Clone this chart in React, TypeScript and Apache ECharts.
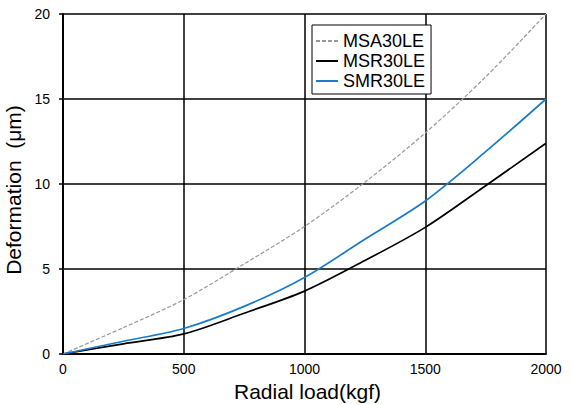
import React, { useEffect, useRef } from "react";
import * as echarts from "echarts";

const loads = [0, 250, 500, 750, 1000, 1250, 1500, 1750, 2000];
const msa = [0, 1.55, 3.2, 5.3, 7.5, 10.1, 13.0, 16.3, 20.0];
const msr = [0, 0.6, 1.18, 2.4, 3.7, 5.5, 7.45, 9.9, 12.4];
const smr = [0, 0.75, 1.5, 2.8, 4.5, 6.75, 9.0, 11.9, 15.0];
const xTicks = [0, 500, 1000, 1500, 2000];
const yTicks = [0, 5, 10, 15, 20];

const pair = (ys: number[]) => loads.map((x, i) => [x, ys[i]]);

export default function App() {
  const ref = useRef<HTMLDivElement>(null);
  useEffect(() => {
    if (!ref.current) return;
    const chart = echarts.init(ref.current, null, { renderer: "svg" });
    const font = "Liberation Sans, Arial, sans-serif";
    chart.setOption({
      animation: false,
      textStyle: { fontFamily: font },
      grid: { left: 63, right: 26, top: 14, bottom: 51, containLabel: false, outerBoundsMode: "none" },
      legend: {
        orient: "vertical",
        left: 312,
        top: 25,
        itemWidth: 22,
        itemHeight: 14,
        itemGap: 2,
        padding: [7, 6, 4, 3],
        borderColor: "#000",
        borderWidth: 1,
        backgroundColor: "#fff",
        textStyle: { fontSize: 18, lineHeight: 18, color: "#000", fontFamily: font },
        data: [
          { name: "MSA30LE", itemStyle: { opacity: 0 } },
          { name: "MSR30LE", itemStyle: { opacity: 0 } },
          { name: "SMR30LE", itemStyle: { opacity: 0 } },
        ],
      },
      xAxis: {
        type: "value",
        min: xTicks[0],
        max: xTicks[xTicks.length - 1],
        interval: 500,
        name: "Radial load(kgf)",
        nameLocation: "middle",
        nameGap: 25,
        nameTextStyle: { fontSize: 21, color: "#000", fontFamily: font, verticalAlign: "top", padding: [0, 0, 0, 6] },
        axisLine: { lineStyle: { color: "#000", width: 2 } },
        axisTick: { show: false },
        axisLabel: { color: "#000", fontSize: 14, margin: 8, fontFamily: font, formatter: (v: number) => String(v) },
        splitLine: { show: true, lineStyle: { color: "#000", width: 1.5 } },
      },
      yAxis: {
        type: "value",
        min: yTicks[0],
        max: yTicks[yTicks.length - 1],
        interval: 5,
        name: "Deformation  (μm)",
        nameLocation: "middle",
        nameGap: 30,
        nameTextStyle: { fontSize: 21, color: "#000", fontFamily: font, padding: [0, 12, 0, 0] },
        axisLine: { show: true, lineStyle: { color: "#000", width: 2 } },
        axisTick: { show: true, length: 4, lineStyle: { color: "#000", width: 1.5 } },
        axisLabel: { color: "#000", fontSize: 14, margin: 13, fontFamily: font },
        splitLine: { show: true, lineStyle: { color: "#000", width: 1.5 } },
      },
      series: [
        {
          name: "MSA30LE",
          type: "line",
          data: pair(msa),
          smooth: 0.3,
          showSymbol: false,
          symbol: "none",
          lineStyle: { color: "#999", width: 1.2, type: [4, 2] },
          itemStyle: { color: "#999" },
          z: 3,
        },
        {
          name: "MSR30LE",
          type: "line",
          data: pair(msr),
          smooth: 0.3,
          showSymbol: false,
          symbol: "none",
          lineStyle: { color: "#000", width: 1.7 },
          itemStyle: { color: "#000" },
          z: 3,
        },
        {
          name: "SMR30LE",
          type: "line",
          data: pair(smr),
          smooth: 0.3,
          showSymbol: false,
          symbol: "none",
          lineStyle: { color: "#1a7cc8", width: 1.7 },
          itemStyle: { color: "#1a7cc8" },
          z: 3,
        },
      ],
    });
    return () => chart.dispose();
  }, []);
  return <div ref={ref} style={{ width: 572, height: 405, position: "absolute", left: 0, top: 0 }} />;
}
